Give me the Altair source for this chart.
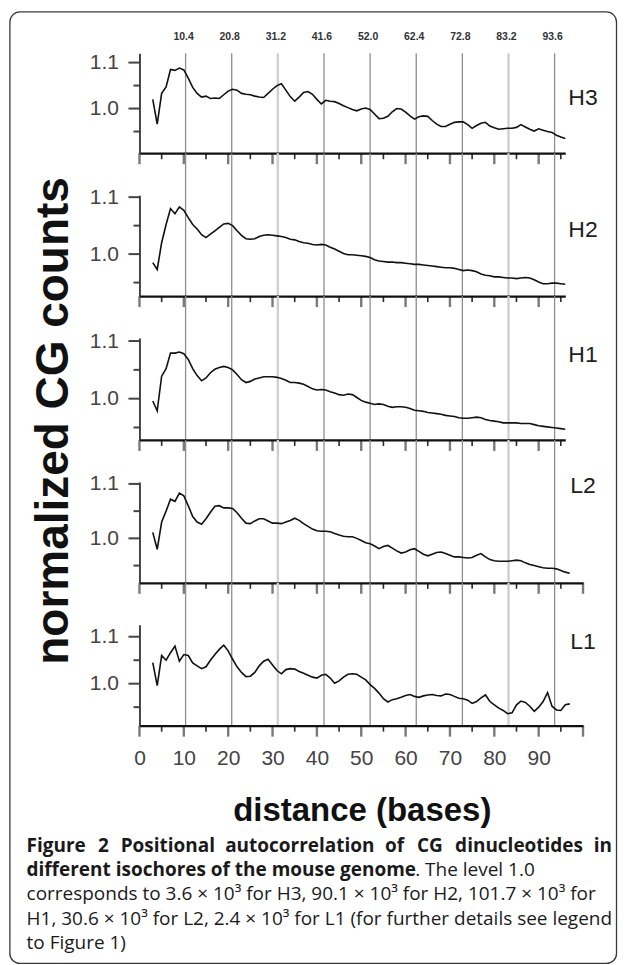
import altair as alt
import pandas as pd

# ---------------- data ----------------
dist_H = list(range(3, 97))   # H3, H2, H1
dist_L = list(range(3, 98))   # L2, L1

H3 = [1.020, 0.966, 1.033, 1.047, 1.085, 1.083, 1.088, 1.084, 1.066, 1.046,
      1.033, 1.025, 1.027, 1.022, 1.023, 1.022, 1.030, 1.038, 1.042, 1.040,
      1.033, 1.031, 1.030, 1.027, 1.025, 1.024, 1.033, 1.042, 1.050, 1.054,
      1.040, 1.026, 1.016, 1.025, 1.035, 1.037, 1.031, 1.020, 1.010, 1.018,
      1.016, 1.015, 1.011, 1.006, 1.002, 0.998, 0.995, 0.999, 1.001, 0.998,
      0.988, 0.978, 0.979, 0.983, 0.993, 1.000, 0.999, 0.992, 0.984, 0.977,
      0.982, 0.984, 0.983, 0.974, 0.966, 0.961, 0.961, 0.966, 0.970, 0.971,
      0.971, 0.965, 0.957, 0.963, 0.968, 0.970, 0.962, 0.958, 0.955, 0.956,
      0.957, 0.957, 0.959, 0.965, 0.960, 0.955, 0.951, 0.956, 0.953, 0.950,
      0.948, 0.942, 0.938, 0.935]
H2 = [0.985, 0.973, 1.020, 1.052, 1.080, 1.071, 1.083, 1.077, 1.064, 1.052,
      1.044, 1.034, 1.029, 1.035, 1.041, 1.047, 1.053, 1.054, 1.050, 1.041,
      1.033, 1.027, 1.026, 1.027, 1.031, 1.033, 1.034, 1.033, 1.032, 1.031,
      1.029, 1.026, 1.025, 1.022, 1.020, 1.019, 1.017, 1.016, 1.017, 1.016,
      1.012, 1.009, 1.005, 1.001, 0.999, 0.999, 0.998, 0.997, 0.996, 0.994,
      0.990, 0.988, 0.987, 0.986, 0.986, 0.985, 0.985, 0.984, 0.983, 0.982,
      0.982, 0.981, 0.980, 0.979, 0.978, 0.977, 0.976, 0.976, 0.975, 0.973,
      0.971, 0.972, 0.971, 0.969, 0.965, 0.963, 0.962, 0.960, 0.960, 0.959,
      0.958, 0.958, 0.957, 0.958, 0.959, 0.958, 0.955, 0.951, 0.948, 0.948,
      0.949, 0.949, 0.948, 0.947]
H1 = [0.996, 0.979, 1.039, 1.052, 1.079, 1.079, 1.081, 1.078, 1.068, 1.052,
      1.040, 1.031, 1.036, 1.045, 1.051, 1.054, 1.056, 1.054, 1.050, 1.042,
      1.033, 1.028, 1.030, 1.034, 1.036, 1.038, 1.038, 1.038, 1.037, 1.035,
      1.032, 1.028, 1.028, 1.027, 1.025, 1.021, 1.017, 1.015, 1.016, 1.015,
      1.012, 1.010, 1.007, 1.006, 1.008, 1.007, 1.002, 0.997, 0.994, 0.992,
      0.990, 0.991, 0.990, 0.987, 0.985, 0.986, 0.986, 0.985, 0.983, 0.980,
      0.979, 0.978, 0.976, 0.975, 0.974, 0.973, 0.971, 0.970, 0.969, 0.967,
      0.966, 0.966, 0.967, 0.968, 0.967, 0.964, 0.962, 0.961, 0.960, 0.958,
      0.958, 0.958, 0.958, 0.957, 0.957, 0.957, 0.955, 0.953, 0.952, 0.951,
      0.950, 0.949, 0.948, 0.947]
L2 = [1.011, 0.980, 1.030, 1.050, 1.072, 1.068, 1.083, 1.078, 1.060, 1.040,
      1.030, 1.026, 1.036, 1.048, 1.059, 1.060, 1.056, 1.056, 1.055, 1.047,
      1.037, 1.028, 1.027, 1.032, 1.036, 1.036, 1.032, 1.028, 1.028, 1.027,
      1.030, 1.033, 1.037, 1.033, 1.027, 1.022, 1.017, 1.014, 1.013, 1.013,
      1.012, 1.009, 1.006, 1.004, 1.003, 1.003, 1.000, 0.996, 0.992, 0.990,
      0.986, 0.981, 0.985, 0.987, 0.982, 0.977, 0.973, 0.975, 0.979, 0.981,
      0.976, 0.971, 0.968, 0.971, 0.974, 0.975, 0.972, 0.969, 0.966, 0.966,
      0.965, 0.964, 0.965, 0.969, 0.972, 0.966, 0.961, 0.959, 0.958, 0.958,
      0.958, 0.959, 0.960, 0.959, 0.955, 0.952, 0.950, 0.948, 0.946, 0.945,
      0.945, 0.944, 0.941, 0.938, 0.936]
L1 = [1.045, 0.996, 1.060, 1.050, 1.066, 1.080, 1.048, 1.062, 1.060, 1.044,
      1.038, 1.032, 1.036, 1.050, 1.062, 1.073, 1.082, 1.070, 1.052, 1.036,
      1.024, 1.015, 1.016, 1.024, 1.038, 1.048, 1.052, 1.040, 1.028, 1.021,
      1.030, 1.032, 1.031, 1.026, 1.022, 1.018, 1.014, 1.012, 1.018, 1.020,
      1.012, 1.001, 1.006, 1.014, 1.020, 1.021, 1.020, 1.014, 1.008, 0.998,
      0.990, 0.980, 0.968, 0.961, 0.966, 0.968, 0.971, 0.975, 0.977, 0.973,
      0.971, 0.974, 0.976, 0.977, 0.975, 0.974, 0.978, 0.977, 0.973, 0.969,
      0.968, 0.965, 0.958, 0.962, 0.970, 0.976, 0.962, 0.955, 0.948, 0.943,
      0.936, 0.938, 0.955, 0.963, 0.960, 0.952, 0.941, 0.950, 0.962, 0.981,
      0.952, 0.944, 0.943, 0.955, 0.957]

series_names = ["H3", "H2", "H1", "L2", "L1"]
series_values = [H3, H2, H1, L2, L1]
series_dist = [dist_H, dist_H, dist_H, dist_L, dist_L]

grid_positions = [10.4, 20.8, 31.2, 41.6, 52.0, 62.4, 72.8, 83.2, 93.6]
light_grid = [31.2, 83.2]
x_tick_labels = [0, 10, 20, 30, 40, 50, 60, 70, 80, 90]
y_tick_labels = [1.0, 1.1]
y_minor_ticks = [0.95, 1.05]

y_title = "normalized CG counts"
x_title = "distance (bases)"
cap_line1_bold = "Figure 2 Positional autocorrelation of CG dinucleotides in"
cap_line2_bold = "different isochores of the mouse genome"
cap_line2_rest = ". The level 1.0"
cap_line3 = "corresponds to 3.6 \u00d7 10\u00b3 for H3, 90.1 \u00d7 10\u00b3 for H2, 101.7 \u00d7 10\u00b3 for"
cap_line4 = "H1, 30.6 \u00d7 10\u00b3 for L2, 2.4 \u00d7 10\u00b3 for L1 (for further details see legend"
cap_line5 = "to Figure 1)"

# ---------------- layout / style ----------------
PX = 4.44          # pixels per distance unit
X0 = 139           # absolute x of plot left edge
SPACING = 42
LAB_FONT = "Liberation Sans, Arial, sans-serif"
CAP_FONT = "Open Sans, Noto Sans, sans-serif"
CAP_LEFT, CAP_RIGHT = 26, 612
CAP_BASELINES = [851, 875.5, 900, 924.5, 949]
# estimated rendered widths (px) of the bold words of caption line 1, used to justify it
LINE1_WORD_W = [59.2, 11.6, 93.5, 146.7, 19.2, 27.6, 127.0, 17.6]

layout = [
    dict(top=52, height=100, ydom=[0.9028, 1.1202], xmax=96, label_y=96),
    dict(top=194, height=101, ydom=[0.9263, 1.1035], xmax=96, label_y=228),
    dict(top=337, height=102, ydom=[0.9284, 1.1052], xmax=96, label_y=353),
    dict(top=481, height=101, ydom=[0.9184, 1.1037], xmax=100, label_y=484),
    dict(top=624, height=101, ydom=[0.9106, 1.1255], xmax=100, label_y=640),
]

one = pd.DataFrame({"k": [0]})


def text_layer(txt, ax, ay, top, size, weight="normal", font=LAB_FONT,
               align="left", color="#1a1a1a", angle=0):
    kw = dict(font=font, fontSize=size, fontWeight=weight, align=align,
              baseline="alphabetic", color=color)
    if angle:
        kw["angle"] = angle
    return alt.Chart(one).mark_text(**kw).encode(
        x=alt.value(ax - X0), y=alt.value(ay - top), text=alt.value(txt))


def justified_line(text, widths, ay, top, size, weight):
    words = text.split(" ")
    gap = (CAP_RIGHT - CAP_LEFT - sum(widths)) / (len(words) - 1)
    out = []
    pos = CAP_LEFT
    for k, (wd, ww) in enumerate(zip(words, widths)):
        if k == 0:
            out.append(text_layer(wd, CAP_LEFT, ay, top, size, weight, CAP_FONT))
        elif k == len(words) - 1:
            out.append(text_layer(wd, CAP_RIGHT, ay, top, size, weight, CAP_FONT,
                                  align="right"))
        else:
            out.append(text_layer(wd, pos + ww / 2, ay, top, size, weight, CAP_FONT,
                                  align="center"))
        pos += ww + gap
    return out


panels = []
for i, (name, vals, dist, lay) in enumerate(zip(series_names, series_values,
                                              series_dist, layout)):
    last = i == len(series_names) - 1
    h = lay["height"]
    top = lay["top"]
    xmax = lay["xmax"]
    w = round(xmax * PX, 1)
    xs = alt.Scale(domain=[0, xmax], nice=False, zero=False)
    ys = alt.Scale(domain=lay["ydom"], nice=False, zero=False)
    xaxis = alt.Axis(values=x_tick_labels if last else [0], labels=last,
                     ticks=False, tickSize=0, grid=False, title=None,
                     domainColor="#111", domainWidth=2.2, zindex=2,
                     labelFont=LAB_FONT, labelFontSize=21, labelColor="#444",
                     labelPadding=22, labelFlush=False)
    yaxis = alt.Axis(values=y_tick_labels, format=".1f", ticks=False,
                     tickSize=0, grid=False, title=None, domainColor="#333",
                     domainWidth=1.8, zindex=2, labelFont=LAB_FONT,
                     labelFontSize=21, labelColor="#444", labelPadding=21)

    X = lambda f: alt.X(f, scale=xs, axis=xaxis)
    Y = lambda f: alt.Y(f, scale=ys, axis=yaxis)

    df_line = pd.DataFrame({"d": dist, "v": vals})
    df_grid = pd.DataFrame({"g": grid_positions})
    majors = list(range(0, xmax + 1, 10))
    minors = list(range(5, xmax, 10))
    df_maj = pd.DataFrame({"t": majors})
    df_min = pd.DataFrame({"t": minors})
    df_ymaj = pd.DataFrame({"yt": y_tick_labels})
    df_ymin = pd.DataFrame({"yt": y_minor_ticks})

    gtop = 0 if i == 0 else -SPACING
    grid = alt.Chart(df_grid).mark_rule().encode(
        x=X("g:Q"), y=alt.value(gtop), y2=alt.value(h),
        color=alt.condition(alt.FieldOneOfPredicate(field="g", oneOf=light_grid),
                            alt.value("#cfcfcf"), alt.value("#8e8e8e")),
        strokeWidth=alt.condition(alt.FieldOneOfPredicate(field="g", oneOf=light_grid),
                                  alt.value(2.4), alt.value(1.3)))
    xt_major = alt.Chart(df_maj).mark_rule(color="#7a7a7a", strokeWidth=2.4).encode(
        x=X("t:Q"), y=alt.value(h), y2=alt.value(h + 11))
    xt_minor = alt.Chart(df_min).mark_rule(color="#2a2a2a", strokeWidth=1.6).encode(
        x=X("t:Q"), y=alt.value(h), y2=alt.value(h + 6))
    yt_major = alt.Chart(df_ymaj).mark_rule(color="#444", strokeWidth=2).encode(
        y=Y("yt:Q"), x=alt.value(-11), x2=alt.value(0))
    yt_minor = alt.Chart(df_ymin).mark_rule(color="#444", strokeWidth=2).encode(
        y=Y("yt:Q"), x=alt.value(-6), x2=alt.value(0))
    line = alt.Chart(df_line).mark_line(color="#111", strokeWidth=1.6).encode(
        x=X("d:Q"), y=Y("v:Q"))
    label = text_layer(name, 583, lay["label_y"] + 8, top, 23, align="center",
                       color="#222")

    layers = [grid, xt_major, xt_minor, yt_major, yt_minor, line, label]

    if i == 0:
        top_labels = alt.Chart(df_grid).mark_text(
            font="Liberation Sans Narrow, Liberation Sans, Arial", fontSize=10.5,
            fontWeight="bold", color="#333", baseline="middle", dx=-2).encode(
            x=X("g:Q"), y=alt.value(35.5 - top),
            text=alt.Text("g:Q", format=".1f"))
        layers.append(top_labels)

    if last:
        frame = alt.Chart(one).mark_rect(fillOpacity=0, stroke="#3a3a3a",
                                         strokeWidth=1.3, cornerRadius=10).encode(
            x=alt.value(9.3 - X0), x2=alt.value(616.5 - X0),
            y=alt.value(10.6 - top), y2=alt.value(963 - top))
        layers.append(frame)
        layers.append(text_layer(y_title, 67, 420, top, 46, weight="bold",
                                 align="center", color="#111", angle=270))
        layers.append(text_layer(x_title, 362, 820, top, 33, weight="bold",
                                 align="center", color="#111"))
        b1, b2, b3, b4, b5 = CAP_BASELINES
        layers.extend(justified_line(cap_line1_bold, LINE1_WORD_W, b1, top, 19, "bold"))
        layers.append(text_layer(cap_line2_bold, CAP_LEFT, b2, top, 19, "bold", CAP_FONT))
        layers.append(text_layer(cap_line2_rest, 415, b2, top, 19, "normal", CAP_FONT))
        layers.append(text_layer(cap_line3, CAP_LEFT, b3, top, 19, "normal", CAP_FONT))
        layers.append(text_layer(cap_line4, CAP_LEFT, b4, top, 19, "normal", CAP_FONT))
        layers.append(text_layer(cap_line5, CAP_LEFT, b5, top, 19, "normal", CAP_FONT))

    panels.append(alt.layer(*layers).properties(width=w, height=h))

chart = alt.VConcatChart(vconcat=panels, spacing=SPACING, bounds="flush").properties(
    padding={"left": 8.6, "top": 9.9, "right": 7, "bottom": 1},
    background="white",
).configure_view(stroke="transparent")

chart.save("out.html", embed_options={"renderer": "svg", "actions": False})
